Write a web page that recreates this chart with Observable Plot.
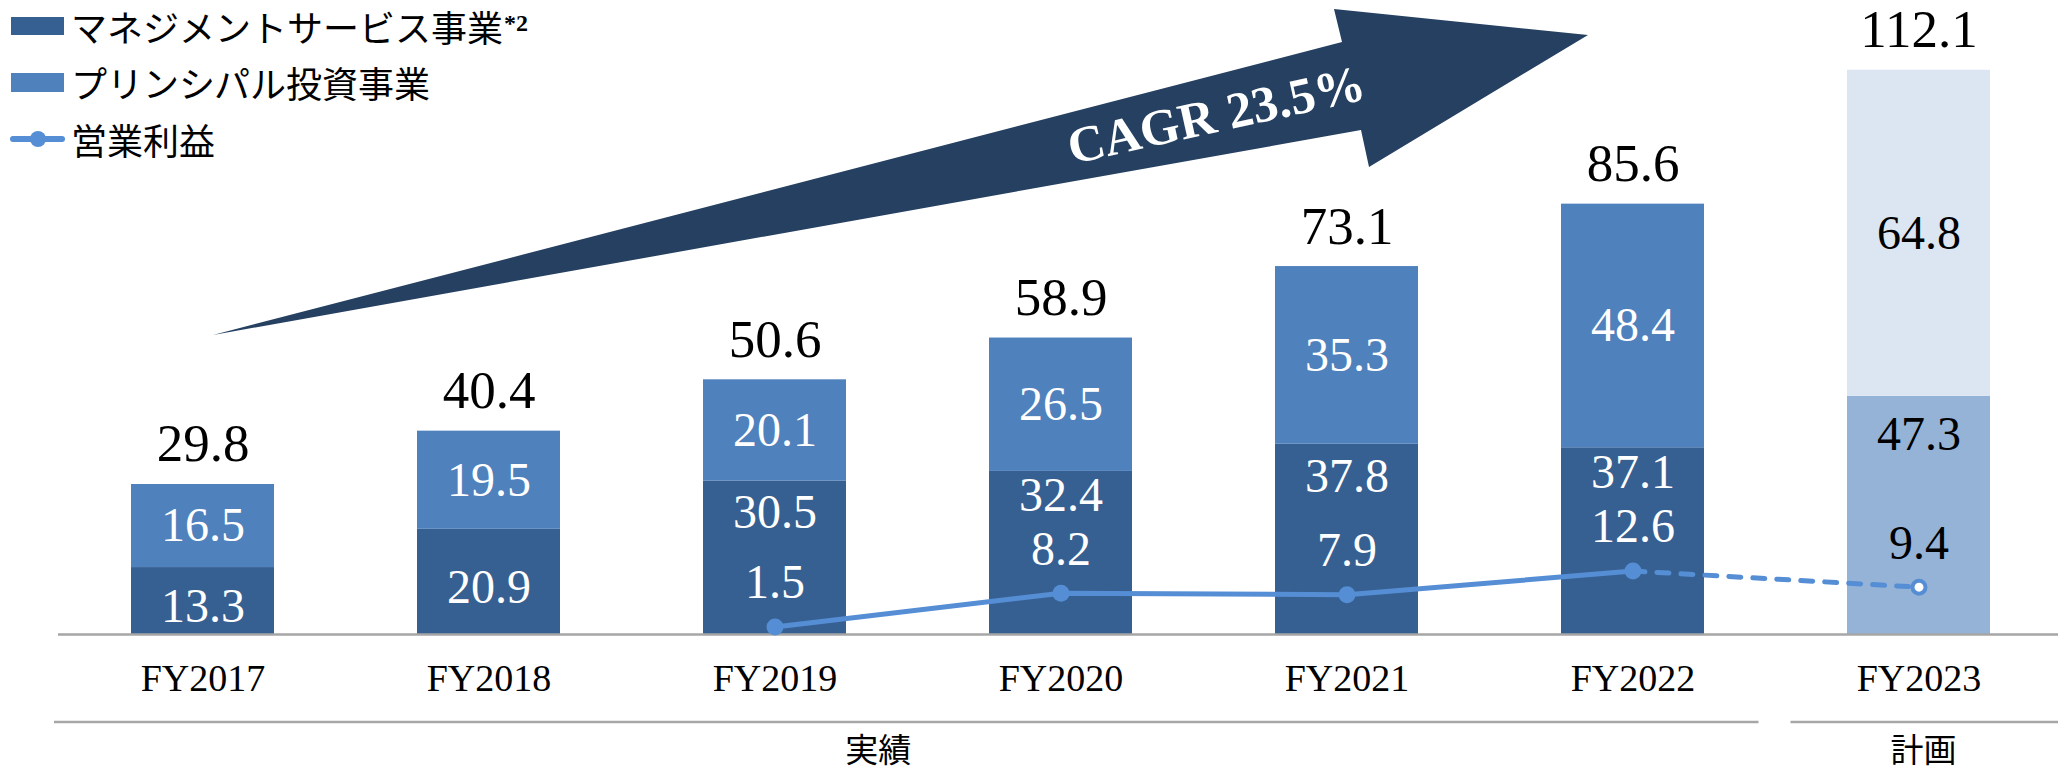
<!DOCTYPE html>
<html>
<head>
<meta charset="utf-8">
<script src="https://cdn.jsdelivr.net/npm/d3@7"></script>
<script src="https://cdn.jsdelivr.net/npm/@observablehq/plot@0.6"></script>
<style>
  html, body { margin: 0; padding: 0; background: #fff; }
  #wrap { position: relative; width: 2058px; height: 774px; overflow: hidden; }
  #legend { position: absolute; left: 0; top: 0; font-family: "Noto Sans CJK JP", sans-serif; font-size: 36px; color: #000; }
  .lg-row { position: absolute; left: 0; width: 700px; height: 40px; }
  .lg-swatch { position: absolute; left: 11px; width: 53px; height: 18px; top: 11px; }
  .lg-text { position: absolute; left: 71px; top: 0; line-height: 40px; white-space: nowrap; }
  .lg-sup { font-family: "Liberation Serif", serif; font-weight: bold; font-size: 24px; position: relative; top: -11px; margin-left: 1px; }
</style>
</head>
<body>
<div id="wrap"></div>
<script>
// ---- data ----
const years = ["FY2017", "FY2018", "FY2019", "FY2020", "FY2021", "FY2022", "FY2023"];
const management = [13.3, 20.9, 30.5, 32.4, 37.8, 37.1, 47.3];
const principal = [16.5, 19.5, 20.1, 26.5, 35.3, 48.4, 64.8];
const totals = [29.8, 40.4, 50.6, 58.9, 73.1, 85.6, 112.1];
const operatingProfit = [null, null, 1.5, 8.2, 7.9, 12.6, 9.4];
const isPlan = [false, false, false, false, false, false, true];
const seriesNames = ["マネジメントサービス事業", "プリンシパル投資事業", "営業利益"];
const groupNames = ["実績", "計画"];
const cagrText = "CAGR 23.5%";

// ---- styles / layout ----
const C_MGMT = "#376092", C_PRIN = "#4F81BD", C_MGMT_PLAN = "#95B3D7", C_PRIN_PLAN = "#DCE6F2";
const C_LINE = "#558ED5", C_ARROW = "#254061", C_GRAY = "#A6A6A6";
const SERIF = '"Liberation Serif", "Times New Roman", serif';
const CJK = '"Noto Sans CJK JP", sans-serif';
const W = 2058, H = 774, MT = 30, MB = 140, YMAX = 120;
const pxPerUnit = (H - MT - MB) / YMAX;
const PROFIT_LABEL_DY = -44;

// ---- tables built from the arrays ----
const bars = years.flatMap((yr, i) => [
  {year: yr, kind: isPlan[i] ? "mgmt-plan" : "mgmt", value: management[i]},
  {year: yr, kind: isPlan[i] ? "prin-plan" : "prin", value: principal[i]}
]);
const rows = years.map((yr, i) => ({
  year: yr, mgmt: management[i], prin: principal[i], total: totals[i],
  profit: operatingProfit[i], plan: isPlan[i]
}));
// management label: near top of its segment, kept clear of the profit label below it
rows.forEach(d => {
  if (d.profit == null) d.mgmtLabel = d.mgmt / 2 - 6 / pxPerUnit;
  else d.mgmtLabel = Math.max(d.mgmt - (d.plan ? 38 : 32) / pxPerUnit, d.profit + (-PROFIT_LABEL_DY + 54) / pxPerUnit);
});
const fmt = v => v.toFixed(1);
const profitRows = rows.filter(d => d.profit != null);
const actualProfit = profitRows.filter(d => !d.plan);
const lastActual = actualProfit[actualProfit.length - 1];
const planProfit = profitRows.filter(d => d.plan);
const dashedSeg = [lastActual, ...planProfit];

const chart = Plot.plot({
  width: W,
  height: H,
  marginLeft: 58,
  marginRight: 0,
  marginTop: MT,
  marginBottom: MB,
  style: {fontFamily: SERIF, fontSize: "38px", color: "#000", background: "transparent", overflow: "visible"},
  x: {domain: years, range: [58, 2062], paddingInner: 0.5, paddingOuter: 0.25, tickSize: 0, tickPadding: 30, label: null},
  y: {domain: [0, YMAX], axis: null},
  color: {domain: ["mgmt", "prin", "mgmt-plan", "prin-plan"], range: [C_MGMT, C_PRIN, C_MGMT_PLAN, C_PRIN_PLAN]},
  marks: [
    Plot.barY(bars, {x: "year", y: "value", fill: "kind"}),
    Plot.ruleY([0], {stroke: C_GRAY, strokeWidth: 2.5}),
    // principal labels (centre of upper segment)
    Plot.text(rows.filter(d => !d.plan), {x: "year", y: d => d.mgmt + d.prin / 2, text: d => fmt(d.prin), fill: "white", fontSize: 48}),
    Plot.text(rows.filter(d => d.plan), {x: "year", y: d => d.mgmt + d.prin / 2, text: d => fmt(d.prin), fill: "black", fontSize: 48}),
    // management labels
    Plot.text(rows.filter(d => !d.plan), {x: "year", y: "mgmtLabel", text: d => fmt(d.mgmt), fill: "white", fontSize: 48}),
    Plot.text(rows.filter(d => d.plan), {x: "year", y: "mgmtLabel", text: d => fmt(d.mgmt), fill: "black", fontSize: 48}),
    // totals
    Plot.text(rows, {x: "year", y: "total", dy: -40, text: d => fmt(d.total), fill: "black", fontSize: 53}),
    // operating profit line
    Plot.line(actualProfit, {x: "year", y: "profit", stroke: C_LINE, strokeWidth: 5}),
    Plot.line(dashedSeg, {x: "year", y: "profit", stroke: C_LINE, strokeWidth: 5, strokeDasharray: "12,12", strokeLinecap: "round"}),
    Plot.dot(actualProfit, {x: "year", y: "profit", r: 8.5, fill: C_LINE}),
    Plot.dot(planProfit, {x: "year", y: "profit", r: 6.5, fill: "white", stroke: C_LINE, strokeWidth: 4}),
    Plot.text(actualProfit, {x: "year", y: "profit", dy: PROFIT_LABEL_DY, text: d => fmt(d.profit), fill: "white", fontSize: 48}),
    Plot.text(planProfit, {x: "year", y: "profit", dy: PROFIT_LABEL_DY, text: d => fmt(d.profit), fill: "black", fontSize: 48})
  ]
});

// ---- group brackets below the axis, positioned from the chart's scales ----
const xs = chart.scale("x");
const ys = chart.scale("y");
const bw = xs.bandwidth;
const base = ys.apply(0);
const lastActualYear = years[isPlan.indexOf(true) - 1];
const firstPlanYear = years[isPlan.indexOf(true)];
const gapMid = (xs.apply(lastActualYear) + bw + xs.apply(firstPlanYear)) / 2;
const svg = d3.select(chart);
const gLines = svg.append("g").attr("stroke", C_GRAY).attr("stroke-width", 2.5);
const rangeStart = xs.range[0];
gLines.append("line").attr("x1", rangeStart - 4).attr("x2", gapMid - 17).attr("y1", base + 88).attr("y2", base + 88);
gLines.append("line").attr("x1", gapMid + 15).attr("x2", W).attr("y1", base + 88).attr("y2", base + 88);
const gText = svg.append("g").attr("font-family", CJK).attr("font-size", 33).attr("text-anchor", "middle").attr("fill", "#000");
gText.append("text").attr("x", (rangeStart - 4 + gapMid - 17) / 2 - 28).attr("y", base + 116).attr("dy", "0.36em").text(groupNames[0]);
gText.append("text").attr("x", xs.apply(firstPlanYear) + bw / 2 + 5).attr("y", base + 116).attr("dy", "0.36em").text(groupNames[1]);

// ---- CAGR arrow (decoration) ----
const arrowPts = [[213, 335], [1342, 42], [1334, 9], [1588, 35], [1369, 167], [1361, 130]];
svg.append("polygon").attr("points", arrowPts.map(p => p.join(",")).join(" ")).attr("fill", C_ARROW);
svg.append("text").attr("transform", "translate(1216,114) rotate(-12.5)")
  .attr("text-anchor", "middle").attr("dy", "0.35em")
  .attr("font-family", SERIF).attr("font-weight", "bold").attr("font-size", 51).attr("fill", "white")
  .text(cagrText);

const wrap = document.getElementById("wrap");
wrap.appendChild(chart);

// ---- legend ----
const legend = document.createElement("div");
legend.id = "legend";
legend.innerHTML = `
  <div class="lg-row" style="top:6px"><div class="lg-swatch" style="background:${C_MGMT}"></div><div class="lg-text">${seriesNames[0]}<span class="lg-sup">*2</span></div></div>
  <div class="lg-row" style="top:62px"><div class="lg-swatch" style="background:${C_PRIN};height:19px"></div><div class="lg-text">${seriesNames[1]}</div></div>
  <div class="lg-row" style="top:119px"><svg width="70" height="40" style="position:absolute;left:0;top:0"><line x1="13" x2="62" y1="20" y2="20" stroke="${C_LINE}" stroke-width="6" stroke-linecap="round"/><circle cx="38" cy="20" r="8" fill="${C_LINE}"/></svg><div class="lg-text">${seriesNames[2]}</div></div>
`;
wrap.appendChild(legend);
</script>
</body>
</html>
